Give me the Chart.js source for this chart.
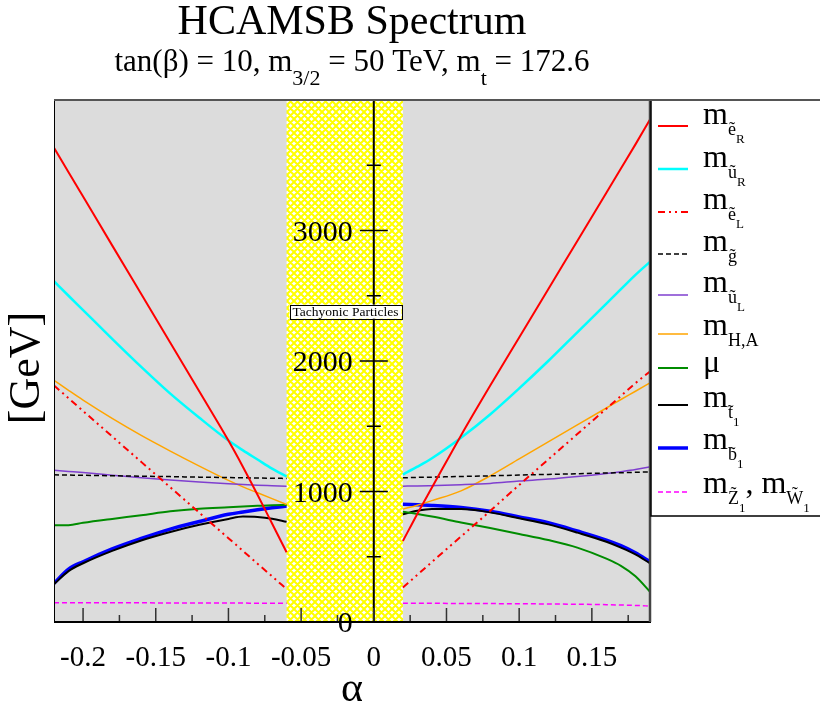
<!DOCTYPE html>
<html>
<head>
<meta charset="utf-8">
<script src="https://cdn.jsdelivr.net/npm/chart.js@4"></script>
<style>
html, body { margin: 0; padding: 0; background: #fff; }
canvas { display: block; }
</style>
</head>
<body>
<canvas id="graph" width="820" height="704"></canvas>
<script>
// alpha grid; the entry at -0.02 is the tachyonic gap (null in every series)
const alpha = [-0.22, -0.21, -0.20, -0.18, -0.16, -0.14, -0.12, -0.10, -0.09, -0.08, -0.07, -0.06, -0.02,
    0.02, 0.03, 0.04, 0.06, 0.08, 0.10, 0.12, 0.14, 0.16, 0.17, 0.18, 0.19];

const selectronR = [3634, 3447, 3260, 2886, 2513, 2140, 1766, 1390, 1188, 975, 755, 535, null,
    620, 830, 1030, 1430, 1810, 2180, 2550, 2920, 3290, 3475, 3660, 3850];
const upsquarkR = [2612, 2500, 2390, 2170, 1955, 1750, 1565, 1390, 1315, 1245, 1175, 1115, null,
    1130, 1190, 1255, 1412, 1590, 1790, 2000, 2220, 2440, 2550, 2660, 2760];
const selectronL = [1812, 1715, 1617, 1422, 1227, 1032, 837, 642, 545, 447, 350, 252, null,
    265, 362, 460, 655, 850, 1050, 1245, 1440, 1635, 1732, 1830, 1920];
const gluino = [1128, 1126, 1124, 1121, 1117, 1114, 1110, 1107, 1105, 1103, 1102, 1100, null,
    1105, 1108, 1110, 1115, 1120, 1126, 1131, 1136, 1142, 1144, 1147, 1150];
const upsquarkL = [1163, 1154, 1145, 1125, 1105, 1088, 1073, 1060, 1054, 1048, 1044, 1040, null,
    1041, 1042, 1045, 1052, 1062, 1080, 1095, 1115, 1138, 1152, 1168, 1189];
const higgsHA = [1852, 1775, 1700, 1560, 1430, 1310, 1195, 1085, 1035, 990, 945, 900, null,
    865, 895, 930, 1005, 1120, 1250, 1380, 1510, 1640, 1705, 1768, 1832];
const mu = [742, 742, 760, 790, 818, 848, 868, 880, 886, 890, 894, 897, null,
    845, 828, 808, 763, 720, 675, 628, 570, 485, 430, 350, 232];
const stop1 = [290, 390, 450, 545, 625, 690, 745, 790, 808, 805, 792, 768, null,
    825, 852, 865, 865, 840, 795, 748, 685, 615, 570, 518, 450];
const sbottom1 = [296, 405, 462, 560, 640, 712, 770, 825, 843, 860, 875, 888, null,
    903, 898, 893, 877, 848, 805, 760, 697, 628, 585, 530, 462];
const neutralino1 = [148, 148, 148, 147, 147, 146, 146, 145, 145, 144, 144, 143, null,
    143, 143, 143, 142, 141, 140, 138, 136, 133, 130, 127, 122];

const xTicks = [-0.2, -0.15, -0.1, -0.05, 0, 0.05, 0.1, 0.15];
const xTickLabels = ['-0.2', '-0.15', '-0.1', '-0.05', '0', '0.05', '0.1', '0.15'];
const xMinorTicks = [-0.175, -0.125, -0.075, -0.025, 0.025, 0.075, 0.125, 0.175];
const yTicks = [0, 1000, 2000, 3000];
const yTickLabels = ['0', '1000', '2000', '3000'];
const yMinorTicks = [500, 1500, 2500, 3500];
const tachyonBand = [-0.06, 0.02];
const tachyonLabel = [-0.0195, 2378];

const SERIF = '"Liberation Serif", "DejaVu Serif", serif';

const series = [
    { data: selectronR, color: '#ff0000', width: 2, dash: [], label: [['m', 0], ['e', 1, 1], ['R', 2]] },
    { data: upsquarkR, color: '#00ffff', width: 2.5, dash: [], label: [['m', 0], ['u', 1, 1], ['R', 2]] },
    { data: selectronL, color: '#ff0000', width: 2, dash: [7, 4, 2, 4, 2, 4], label: [['m', 0], ['e', 1, 1], ['L', 2]] },
    { data: gluino, color: '#000000', width: 1.5, dash: [5, 3], label: [['m', 0], ['g', 1, 1]] },
    { data: upsquarkL, color: '#7f3fcf', width: 1.5, dash: [], label: [['m', 0], ['u', 1, 1], ['L', 2]] },
    { data: higgsHA, color: '#ffa500', width: 1.5, dash: [], label: [['m', 0], ['H,A', 1]] },
    { data: mu, color: '#008c00', width: 2, dash: [], label: [['\u03bc', 0]] },
    { data: stop1, color: '#000000', width: 2, dash: [], label: [['m', 0], ['t', 1, 1], ['1', 2]] },
    { data: sbottom1, color: '#0000ff', width: 3.5, dash: [], label: [['m', 0], ['b', 1, 1], ['1', 2]] },
    { data: neutralino1, color: '#ff00ff', width: 1.5, dash: [5, 3],
        label: [['m', 0], ['Z', 1, 1], ['1', 2], [', m', 0], ['W', 1, 1], ['1', 2]] },
];

// legend layout: sample line y and text baseline for each entry
const legendLineY = [126, 169, 212, 254, 295, 334, 368, 405, 448, 492];
const legendBase = [124, 167, 209, 251, 292, 335, 372, 407, 449, 493];

const hatch = ctx => {
    const s = 7;
    const c = document.createElement('canvas');
    c.width = c.height = s;
    const g = c.getContext('2d');
    g.fillStyle = '#ffffff';
    g.fillRect(0, 0, s, s);
    g.strokeStyle = '#ffff00';
    g.lineWidth = 2;
    g.beginPath();
    for (const k of [-s, 0, s]) {
        g.moveTo(k - 1, -1); g.lineTo(k + s + 1, s + 1);
    }
    for (const k of [0, s, 2 * s]) {
        g.moveTo(k + 1, -1); g.lineTo(k - s - 1, s + 1);
    }
    g.stroke();
    return ctx.createPattern(c, 'repeat');
};

const richWidth = (ctx, parts, sizes) => {
    let w = 0;
    for (const [txt, lvl] of parts) {
        ctx.font = sizes[lvl] + 'px ' + SERIF;
        w += ctx.measureText(txt).width;
    }
    return w;
};

const drawRich = (ctx, parts, x, y, sizes, drops) => {
    ctx.textAlign = 'left';
    ctx.textBaseline = 'alphabetic';
    for (const [txt, lvl, tilde] of parts) {
        ctx.font = sizes[lvl] + 'px ' + SERIF;
        const by = y + drops[lvl];
        ctx.fillText(txt, x, by);
        const w = ctx.measureText(txt).width;
        if (tilde) {
            const up = /[A-Z]/.test(txt) ? sizes[lvl] * 0.24 : 0;
            ctx.textAlign = 'center';
            ctx.fillText('\u02dc', x + w / 2, by - up);
            ctx.textAlign = 'left';
        }
        x += w;
    }
};

const frame = {
    id: 'frame',
    beforeDraw(chart) {
        const { ctx, chartArea: a, scales: { x } } = chart;
        ctx.save();
        ctx.fillStyle = '#ffffff';
        ctx.fillRect(0, 0, chart.width, chart.height);
        ctx.fillStyle = '#dcdcdc';
        ctx.fillRect(a.left, a.top, a.right - a.left, a.bottom - a.top);
        const b0 = x.getPixelForValue(tachyonBand[0]), b1 = x.getPixelForValue(tachyonBand[1]);
        ctx.fillStyle = hatch(ctx);
        ctx.fillRect(b0, a.top, b1 - b0, a.bottom - a.top);
        ctx.restore();
    },
    afterDatasetsDraw(chart) {
        const { ctx, chartArea: a, scales: { x, y } } = chart;
        ctx.save();
        ctx.fillStyle = '#000';

        // y axis sits at alpha = 0
        const x0 = x.getPixelForValue(0);
        ctx.strokeStyle = '#000';
        ctx.lineWidth = 2;
        ctx.beginPath();
        ctx.moveTo(x0, a.top); ctx.lineTo(x0, a.bottom);
        ctx.stroke();
        ctx.lineWidth = 1.5;
        ctx.beginPath();
        for (const v of yTicks) {
            const py = y.getPixelForValue(v);
            ctx.moveTo(x0 - 14, py); ctx.lineTo(x0 + 14, py);
        }
        for (const v of yMinorTicks) {
            const py = y.getPixelForValue(v);
            ctx.moveTo(x0 - 7, py); ctx.lineTo(x0 + 7, py);
        }
        ctx.stroke();
        ctx.font = '30px ' + SERIF;
        ctx.textAlign = 'right';
        ctx.textBaseline = 'alphabetic';
        yTicks.forEach((v, i) => ctx.fillText(yTickLabels[i], x0 - 21, y.getPixelForValue(v) + 10));

        // x ticks point inward from the bottom
        ctx.strokeStyle = '#333';
        ctx.beginPath();
        for (const v of xTicks) {
            const px = x.getPixelForValue(v);
            ctx.moveTo(px, a.bottom); ctx.lineTo(px, a.bottom - 14);
        }
        for (const v of xMinorTicks) {
            const px = x.getPixelForValue(v);
            ctx.moveTo(px, a.bottom); ctx.lineTo(px, a.bottom - 7);
        }
        ctx.stroke();

        // frame
        ctx.strokeStyle = '#000';
        ctx.lineWidth = 1;
        ctx.beginPath(); ctx.moveTo(a.left + 0.5, a.top); ctx.lineTo(a.left + 0.5, a.bottom); ctx.stroke();
        ctx.lineWidth = 2;
        ctx.beginPath(); ctx.moveTo(a.left, a.bottom); ctx.lineTo(a.right + 1, a.bottom); ctx.stroke();
        ctx.strokeStyle = '#444';
        ctx.lineWidth = 2.5;
        ctx.beginPath(); ctx.moveTo(a.right, a.top); ctx.lineTo(a.right, a.bottom); ctx.stroke();

        // x tick labels and titles
        ctx.fillStyle = '#000';
        ctx.font = '29px ' + SERIF;
        ctx.textAlign = 'center';
        xTicks.forEach((v, i) => ctx.fillText(xTickLabels[i], x.getPixelForValue(v), a.bottom + 44));
        const cx = (a.left + a.right) / 2;
        ctx.font = '42px ' + SERIF;
        ctx.fillText('\u03b1', cx, 701);
        ctx.fillText('HCAMSB Spectrum', cx, 34);
        const sub = [['tan(\u03b2) = 10, m', 0], ['3/2', 1], [' = 50 TeV, m', 0], ['t', 1], [' = 172.6', 0]];
        const sw = richWidth(ctx, sub, [31, 22]);
        drawRich(ctx, sub, cx - sw / 2, 71, [31, 22], [0, 14]);

        ctx.save();
        ctx.translate(27, 368);
        ctx.rotate(-Math.PI / 2);
        ctx.font = '44px ' + SERIF;
        ctx.textAlign = 'center';
        ctx.textBaseline = 'middle';
        ctx.fillText('[GeV]', 0, 0);
        ctx.restore();

        // tachyonic label
        ctx.font = '13.5px ' + SERIF;
        const tx = x.getPixelForValue(tachyonLabel[0]), ty = y.getPixelForValue(tachyonLabel[1]);
        const tw = ctx.measureText('Tachyonic Particles').width + 6;
        ctx.fillStyle = '#fff';
        ctx.fillRect(tx - tw / 2, ty - 7, tw, 14);
        ctx.strokeStyle = '#000';
        ctx.lineWidth = 1;
        ctx.strokeRect(Math.round(tx - tw / 2) + 0.5, Math.round(ty - 7) + 0.5, Math.round(tw), 14);
        ctx.fillStyle = '#000';
        ctx.textAlign = 'center';
        ctx.textBaseline = 'middle';
        ctx.fillText('Tachyonic Particles', tx, ty + 1);

        // legend box
        ctx.fillStyle = '#fff';
        ctx.fillRect(a.right + 1, a.top, chart.width - a.right, 416);
        ctx.strokeStyle = '#000';
        ctx.lineWidth = 1.5;
        ctx.beginPath();
        ctx.moveTo(a.right + 1, a.top); ctx.lineTo(a.right + 1, a.top + 416);
        ctx.lineTo(chart.width, a.top + 416);
        ctx.stroke();
        ctx.strokeStyle = '#555';
        ctx.lineWidth = 2;
        ctx.beginPath(); ctx.moveTo(a.left, a.top); ctx.lineTo(chart.width, a.top); ctx.stroke();

        series.forEach((s, i) => {
            ctx.strokeStyle = s.color;
            ctx.lineWidth = s.width;
            ctx.setLineDash(s.dash);
            ctx.beginPath();
            ctx.moveTo(658, legendLineY[i]); ctx.lineTo(688, legendLineY[i]);
            ctx.stroke();
            ctx.setLineDash([]);
            ctx.fillStyle = '#000';
            drawRich(ctx, s.label, 703, legendBase[i], [32, 18, 13], [0, 11, 19]);
        });
        ctx.restore();
    },
};

const graph = new Chart('graph', {
    type: 'line',
    data: {
        datasets: series.map(s => ({
            data: alpha.map((a, i) => ({ x: a, y: s.data[i] })),
            borderColor: s.color,
            borderWidth: s.width,
            borderDash: s.dash,
            pointRadius: 0,
            fill: false,
            spanGaps: false,
            cubicInterpolationMode: 'monotone',
        })),
    },
    options: {
        responsive: false,
        animation: false,
        layout: {
            padding: { left: 54, top: 100, right: 170, bottom: 82 },
        },
        plugins: {
            legend: { display: false },
            title: { display: false },
            tooltip: { enabled: false },
        },
        scales: {
            x: { type: 'linear', min: -0.22, max: 0.19, display: false },
            y: { type: 'linear', min: 0, max: 4000, display: false },
        },
    },
    plugins: [frame],
});
</script>
</body>
</html>
